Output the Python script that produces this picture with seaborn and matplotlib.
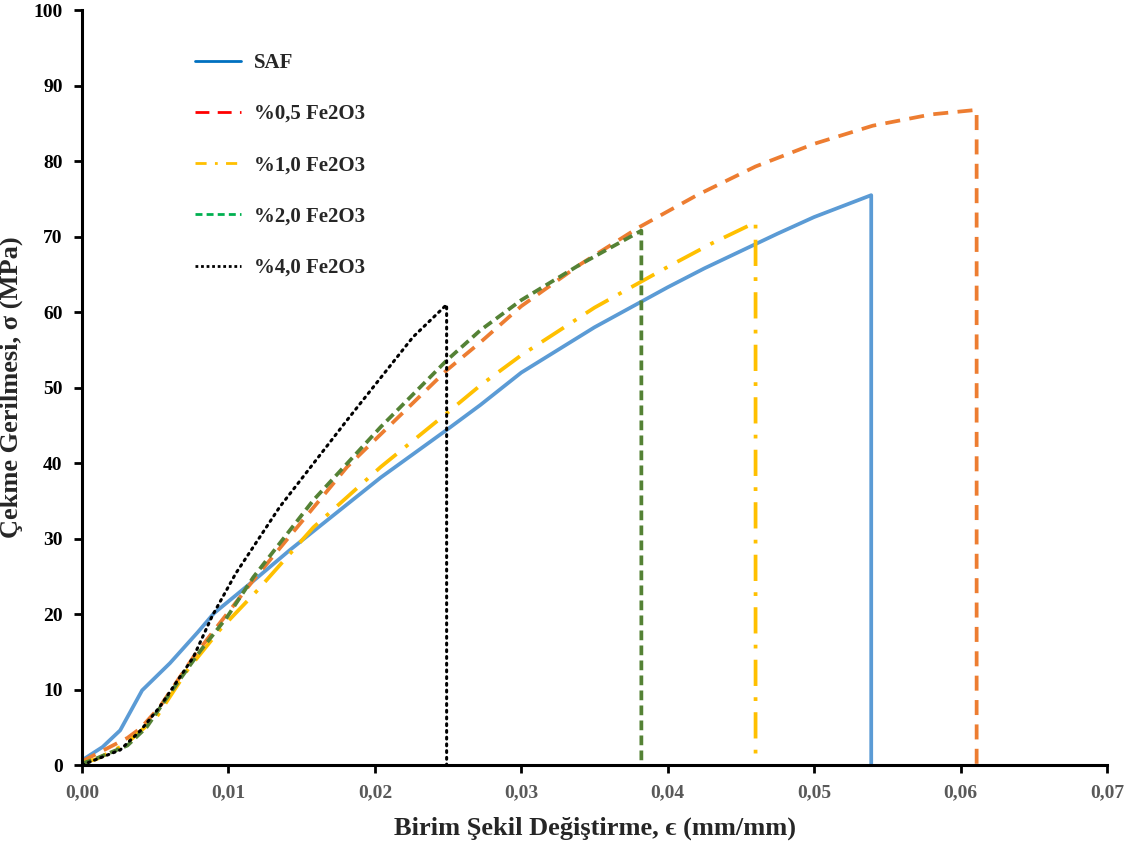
import numpy as np
import pandas as pd
import matplotlib
matplotlib.use("Agg")
import matplotlib.pyplot as plt
import seaborn as sns
from matplotlib.lines import Line2D

# DATA (strain in mm/mm, stress in MPa)
saf_x = [0.0, 0.0002, 0.0014, 0.0026, 0.0041, 0.006, 0.0079, 0.009, 0.0117, 0.0142, 0.0204,
         0.0249, 0.0272, 0.03, 0.035, 0.04, 0.0425, 0.045, 0.0475, 0.05, 0.0539, 0.0539]
saf_y = [0.5, 0.9, 2.4, 4.6, 9.9, 13.5, 17.6, 20.1, 24.4, 28.5, 38.1,
         44.4, 47.7, 52.0, 58.0, 63.3, 65.8, 68.1, 70.4, 72.6, 75.5, 0.0]

fe05_x = [0.0, 0.0012, 0.0031, 0.004, 0.0053, 0.0076, 0.0094, 0.0117, 0.0181, 0.0249, 0.0272,
          0.03, 0.034, 0.038, 0.042, 0.046, 0.05, 0.054, 0.058, 0.0611, 0.0611]
fe05_y = [0.5, 1.7, 3.6, 4.9, 7.7, 14.3, 18.8, 24.5, 39.5, 52.3, 56.0,
          60.8, 66.3, 71.2, 75.5, 79.3, 82.3, 84.7, 86.2, 86.8, 0.0]

fe10_x = [0.0, 0.001, 0.003, 0.0051, 0.0072, 0.0094, 0.012, 0.0158, 0.0204, 0.0249, 0.0272,
          0.03, 0.035, 0.04, 0.043, 0.046, 0.046]
fe10_y = [0.3, 0.8, 2.8, 6.4, 12.6, 17.9, 23.2, 31.5, 39.5, 46.6, 50.3,
          54.3, 60.6, 66.0, 69.1, 71.9, 0.0]

fe20_x = [0.0, 0.001, 0.0031, 0.0044, 0.006, 0.0081, 0.0099, 0.0117, 0.0158, 0.0204, 0.0249,
          0.0272, 0.03, 0.034, 0.0382, 0.0382]
fe20_y = [0.2, 0.9, 2.6, 5.0, 9.5, 15.2, 19.6, 24.9, 35.1, 44.8, 53.6,
          57.6, 61.6, 66.3, 70.8, 0.0]

fe40_x = [0.0, 0.0009, 0.0026, 0.004, 0.0053, 0.0076, 0.0089, 0.0105, 0.0135, 0.0181, 0.0226,
          0.0249, 0.0249]
fe40_y = [0.0, 0.7, 2.0, 4.6, 7.7, 14.3, 19.8, 25.4, 34.2, 45.7, 56.7, 61.0, 0.0]

labels = ["SAF", "%0,5 Fe2O3", "%1,0 Fe2O3", "%2,0 Fe2O3", "%4,0 Fe2O3"]
xs = [saf_x, fe05_x, fe10_x, fe20_x, fe40_x]
ys = [saf_y, fe05_y, fe10_y, fe20_y, fe40_y]

line_colors = ["#5B9BD5", "#ED7D31", "#FFC000", "#548235", "#000000"]
line_dashes = [(None, None), (4, 2.5), (7, 3, 1, 3), (2.6, 1.4), (0.6, 1.6)]
legend_colors = ["#0070C0", "#FF0000", "#FFC000", "#00B050", "#000000"]
legend_dashes = [(None, None), (5, 3), (4, 3, 1, 3), (2.5, 1.5), (1, 1)]

sns.set_style("white")
serif = ["Liberation Serif", "DejaVu Serif"]

fig = plt.figure(figsize=(11.4, 8.52), dpi=100)
ax = fig.add_axes([0.072, 0.102, 0.899, 0.886])

for i in range(len(labels)):
    df = pd.DataFrame({"x": xs[i], "y": ys[i]})
    lw = 2.7 if i != 4 else 2.2
    line = sns.lineplot(data=df, x="x", y="y", sort=False, estimator=None, ax=ax,
                        color=line_colors[i], linewidth=lw).lines[-1]
    if line_dashes[i][0] is not None:
        line.set_dashes(line_dashes[i])
    if i == 4:
        line.set_dash_capstyle("round")

ax.set_xlim(0, 0.07)
ax.set_ylim(0, 100)
ax.set_xticks(np.arange(0, 0.0701, 0.01))
ax.set_yticks(np.arange(0, 101, 10))
ax.set_xticklabels([("%.2f" % v).replace(".", ",") for v in np.arange(0, 0.0701, 0.01)],
                   family=serif, weight="bold", fontsize=14, color="#595959")
ax.set_yticklabels([str(v) for v in range(0, 101, 10)],
                   family=serif, weight="bold", fontsize=14, color="black")

sns.despine(ax=ax)
for s in ["left", "bottom"]:
    ax.spines[s].set_linewidth(2.2)
    ax.spines[s].set_color("black")
ax.tick_params(axis="both", direction="out", length=6, width=2, color="black",
               left=True, bottom=True, pad=8)

ax.set_xlabel("Birim Şekil Değiştirme, ϵ (mm/mm)", family=serif + ["DejaVu Sans"],
              weight="bold", fontsize=19)
ax.xaxis.set_label_coords(0.5, -0.068)
ax.set_ylabel("Çekme Gerilmesi, σ (MPa)", family=serif, weight="bold", fontsize=19)
ax.yaxis.set_label_coords(-0.058, 0.5)

handles = []
for i in range(len(labels)):
    h = Line2D([0], [0], color=legend_colors[i], linewidth=2)
    if legend_dashes[i][0] is not None:
        h.set_dashes(legend_dashes[i])
    handles.append(h)

ax.legend(handles, labels, loc="upper left", bbox_to_anchor=(0.155, 0.96),
          bbox_transform=fig.transFigure, frameon=False, handlelength=2.2,
          labelspacing=1.5, handletextpad=0.6,
          prop={"family": serif, "weight": "bold", "size": 15})

fig.savefig("out.png", dpi=100)
